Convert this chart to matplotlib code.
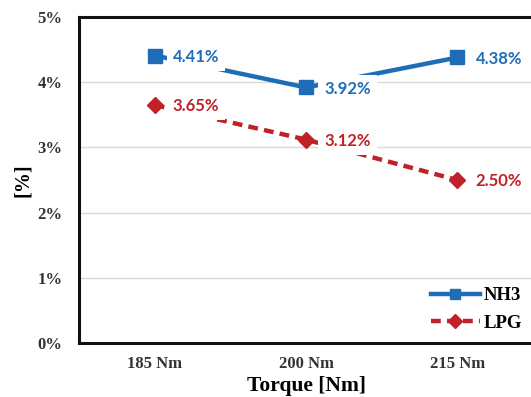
import numpy as np
import matplotlib.pyplot as plt
from matplotlib.ticker import PercentFormatter

torque = ['185 Nm', '200 Nm', '215 Nm']
nh3 = [4.41, 3.92, 4.38]
lpg = [3.65, 3.12, 2.50]

blue = '#1f6db6'
red = '#bf2228'

fig = plt.figure(figsize=(5.31, 3.97), dpi=100)
ax = fig.add_axes([0.149, 0.136, 0.855, 0.821])
x = np.arange(len(torque))

ax.plot(x, nh3, color=blue, lw=3.2, marker='s', ms=10, label='NH3', zorder=3)
ax.plot(x, lpg, color=red, lw=3.2, ls=(0, (2.2, 1.4)), marker='D', ms=8.5, label='LPG', zorder=3)

for series, col in [(nh3, blue), (lpg, red)]:
    for xi, v in zip(x, series):
        ax.annotate(f'{v:.2f}%', (xi, v), xytext=(13, -1), textcoords='offset points',
                    va='center', ha='left', color=col, fontsize=12, fontweight='bold',
                    family='Lato', zorder=4,
                    bbox=dict(boxstyle='square,pad=0.35', fc='white', ec='none'))

ax.set_xlim(-0.5, 2.5)
ax.set_ylim(0, 5)
ax.set_yticks(np.arange(0, 6, 1))
ax.yaxis.set_major_formatter(PercentFormatter(decimals=0))
ax.set_xticks(x)
ax.set_xticklabels(torque)
ax.grid(axis='y', color='#d9d9d9', lw=1)
ax.set_axisbelow(True)
for s in ['left', 'top', 'bottom']:
    ax.spines[s].set_linewidth(2.2)
    ax.spines[s].set_color('#111111')
ax.spines['right'].set_visible(False)
ax.tick_params(axis='y', length=0, pad=12)
ax.tick_params(axis='x', length=0, pad=9)
for lab in ax.get_xticklabels() + ax.get_yticklabels():
    lab.set_family('Liberation Serif')
    lab.set_fontweight('bold')
    lab.set_fontsize(12)
    lab.set_color('#333333')

ax.set_xlabel('Torque [Nm]', family='Liberation Serif', fontweight='bold', fontsize=15.5, labelpad=3)
ax.set_ylabel('[%]', family='Liberation Serif', fontweight='bold', fontsize=14.5, labelpad=3)

leg = ax.legend(loc='lower right', frameon=False, prop={'family': 'Liberation Serif', 'weight': 'bold', 'size': 13.5},
                handlelength=2.6, handletextpad=0.2, borderaxespad=0.2, labelspacing=0.55)
for h in leg.legend_handles:
    h.set_markersize(7)

fig.savefig('out.png', dpi=100)
